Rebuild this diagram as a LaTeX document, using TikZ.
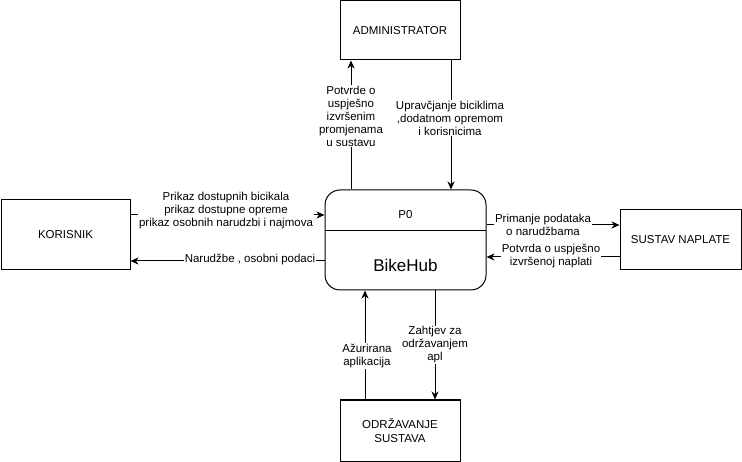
\documentclass[tikz,border=0pt]{standalone}
\usepackage{fontspec}
\setmainfont{Liberation Sans}
\usetikzlibrary{arrows.meta}
\begin{document}
\begin{tikzpicture}[x=1pt,y=-1pt,line width=1pt,
  box/.style={draw,rectangle,inner sep=0pt,align=center,font=\fontsize{11.5}{14.5}\selectfont},
  lbl/.style={fill=white,inner sep=1pt,align=center,font=\fontsize{11.5}{13}\selectfont},
  arr/.style={-{Stealth[length=8pt,width=7pt,inset=2.5pt]}}]
\useasboundingbox (0,0) rectangle (742,462);
% boxes
\node[box,minimum width=120pt,minimum height=59pt] (admin) at (400,30.5) {ADMINISTRATOR};
\node[box,minimum width=129pt,minimum height=70pt] (kor) at (65.5,235) {KORISNIK};
\node[box,minimum width=121pt,minimum height=60pt] (sus) at (680.5,240) {SUSTAV NAPLATE};
\node[box,minimum width=120pt,minimum height=61pt] (odr) at (400,430.5) {ODRŽAVANJE\\SUSTAVA};
\node[draw,rectangle,rounded corners=15pt,minimum width=161pt,minimum height=100pt] (p0) at (405.5,240) {};
\coordinate (dl) at (325,231);
\coordinate (dr) at (486,231);
\draw (dl) -- (dr);
\node[font=\fontsize{11.5}{14}\selectfont] (p0t) at (405.5,215) {P0};
\node[font=\fontsize{17}{20}\selectfont] (bh) at (405.5,265) {BikeHub};
% connectors
\draw[arr] (p0.north -| 351,0) -- (admin.south -| 351,0);
\node[lbl] (l1) at (351,116) {Potvrde o\\uspješno\\izvršenim\\promjenama\\u sustavu};
\draw[arr] (admin.south -| 451,0) -- (p0.north -| 451,0);
\node[lbl] (l2) at (450,118) {Upravčjanje biciklima\\,dodatnom opremom\\i korisnicima};
\draw[arr] (kor.east |- 0,215) -- (p0.west |- 0,215);
\node[lbl] (l3) at (226,211) {Prikaz dostupnih bicikala\\prikaz dostupne opreme\\prikaz osobnih narudzbi i najmova};
\draw[arr] (p0.west |- 0,261) -- (kor.east |- 0,261);
\node[lbl] (l4) at (250,260) {Narudžbe , osobni podaci};
\draw[arr] (p0.east |- 0,225) -- (sus.west |- 0,225);
\node[lbl] (l5) at (543,225) {Primanje podataka\\o narudžbama};
\draw[arr] (sus.west |- 0,257) -- (p0.east |- 0,257);
\node[lbl] (l6) at (551,256) {Potvrda o uspješno\\izvršenoj naplati};
\draw[arr] (odr.north -| 365,0) -- (p0.south -| 365,0);
\node[lbl] (l7) at (367,356) {Ažurirana\\aplikacija};
\draw[arr] (p0.south -| 435,0) -- (odr.north -| 435,0);
\node[lbl] (l8) at (435,345) {Zahtjev za\\održavanjem\\apl};
\end{tikzpicture}
\end{document}
